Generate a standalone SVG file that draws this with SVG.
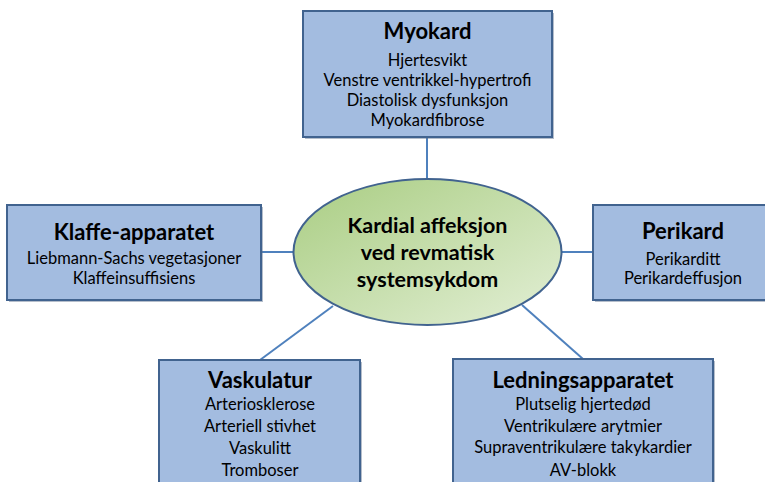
<svg xmlns="http://www.w3.org/2000/svg" width="765" height="482" viewBox="0 0 765 482">
<defs>
<linearGradient id="g" x1="0" y1="0" x2="1" y2="1">
<stop offset="0" stop-color="#A9CD82"/>
<stop offset="1" stop-color="#E3EFD6"/>
</linearGradient>
</defs>
<style>
.box{fill:#A3BCE0;stroke:#41638F;stroke-width:2}
.sh{fill:#5A6F8C;opacity:0.45}
.t{font-family:Lato,"Liberation Sans",sans-serif;font-weight:bold;font-size:22px;fill:#000;text-anchor:middle}
.e{font-size:21.5px}
.b{font-family:Lato,"Liberation Sans",sans-serif;font-size:16.5px;fill:#000;text-anchor:middle}
.c{stroke:#4F81BD;stroke-width:2;fill:none}
</style>
<rect width="765" height="482" fill="#fff"/>
<g id="connectors">
<line class="c" x1="427" y1="137" x2="427" y2="180"/>
<line class="c" x1="261" y1="252" x2="294" y2="252"/>
<line class="c" x1="561" y1="252" x2="593" y2="252"/>
<line class="c" x1="260" y1="360" x2="333" y2="306"/>
<line class="c" x1="583" y1="359" x2="522" y2="305"/>
</g>
<g id="center">
<ellipse cx="427.5" cy="252" rx="134" ry="73" fill="url(#g)" stroke="#41638F" stroke-width="2"/>
<text class="t e" x="427.5" y="233">Kardial affeksjon</text>
<text class="t e" x="427.5" y="260">ved revmatisk</text>
<text class="t e" x="427.5" y="287">systemsykdom</text>
</g>
<g id="myokard">
<rect class="sh" x="305" y="13" width="249" height="126"/>
<rect class="box" x="303" y="11" width="249" height="126"/>
<text class="t" x="427.5" y="39">Myokard</text>
<text class="b" x="427.5" y="66">Hjertesvikt</text>
<text class="b" x="427.5" y="86">Venstre ventrikkel-hypertrofi</text>
<text class="b" x="427.5" y="106">Diastolisk dysfunksjon</text>
<text class="b" x="427.5" y="126">Myokardfibrose</text>
</g>
<g id="klaffe">
<rect class="sh" x="9" y="207" width="254" height="95"/>
<rect class="box" x="7" y="205" width="254" height="95"/>
<text class="t" x="134" y="240">Klaffe-apparatet</text>
<text class="b" x="134" y="264">Liebmann-Sachs vegetasjoner</text>
<text class="b" x="134" y="284">Klaffeinsuffisiens</text>
</g>
<g id="perikard">
<rect class="sh" x="595" y="207" width="180" height="95"/>
<rect class="box" x="593" y="205" width="180" height="95"/>
<text class="t" x="683" y="239">Perikard</text>
<text class="b" x="683" y="265">Perikarditt</text>
<text class="b" x="683" y="284">Perikardeffusjon</text>
</g>
<g id="vaskulatur">
<rect class="sh" x="161" y="362" width="201" height="130"/>
<rect class="box" x="159" y="360" width="201" height="130"/>
<text class="t" x="260" y="388">Vaskulatur</text>
<text class="b" x="260" y="410">Arteriosklerose</text>
<text class="b" x="260" y="432">Arteriell stivhet</text>
<text class="b" x="260" y="454">Vaskulitt</text>
<text class="b" x="260" y="476">Tromboser</text>
</g>
<g id="ledning">
<rect class="sh" x="455" y="361" width="260" height="130"/>
<rect class="box" x="453" y="359" width="260" height="130"/>
<text class="t" x="583" y="388">Ledningsapparatet</text>
<text class="b" x="583" y="410">Plutselig hjertedød</text>
<text class="b" x="583" y="432">Ventrikulære arytmier</text>
<text class="b" x="583" y="453">Supraventrikulære takykardier</text>
<text class="b" x="583" y="476">AV-blokk</text>
</g>
</svg>
